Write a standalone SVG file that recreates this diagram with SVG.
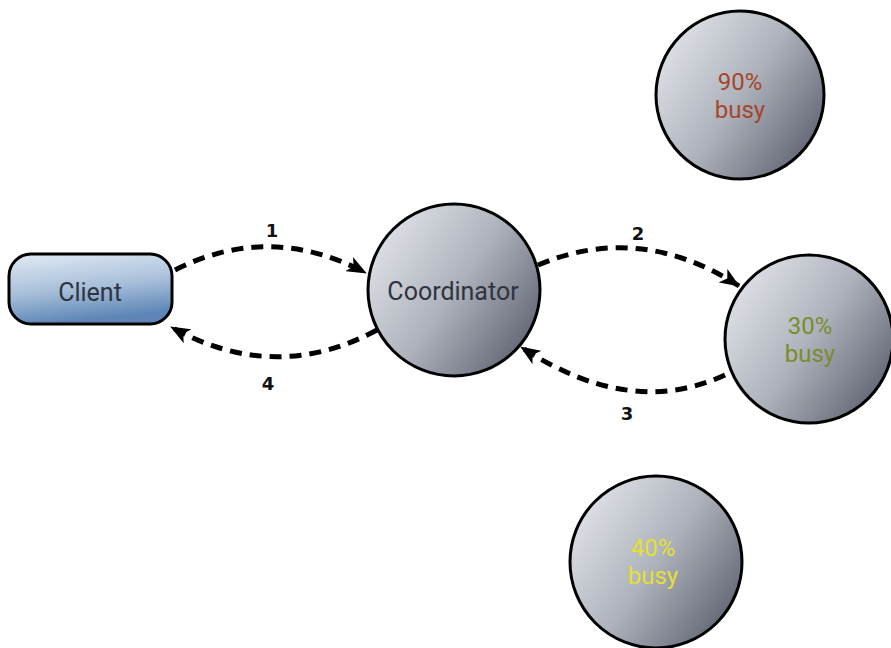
<svg xmlns="http://www.w3.org/2000/svg" width="891" height="648" viewBox="0 0 891 648">
  <defs>
    <linearGradient id="ballFill" x1="0" y1="0.15" x2="1" y2="0.85">
      <stop offset="0" stop-color="#e4e7ec"/>
      <stop offset="0.5" stop-color="#aeb2bb"/>
      <stop offset="1" stop-color="#595d6c"/>
    </linearGradient>
    <linearGradient id="pillFill" x1="0" y1="0" x2="0.25" y2="1">
      <stop offset="0" stop-color="#e2ebf5"/>
      <stop offset="0.55" stop-color="#a9c0da"/>
      <stop offset="1" stop-color="#5d86b6"/>
    </linearGradient>
    <marker id="head" viewBox="0 0 20 16" refX="19" refY="8" markerWidth="20" markerHeight="16" markerUnits="userSpaceOnUse" orient="auto">
      <path d="M0,0 L20,8 L0,16 L5,8 Z" fill="#000"/>
    </marker>
    <style>
      .ball { fill: url(#ballFill); stroke: #000; stroke-width: 3; }
      .pill { fill: url(#pillFill); stroke: #000; stroke-width: 3; }
      .name { font-family: Roboto, "Liberation Sans", sans-serif; font-size: 25px; fill: #2f3440; text-anchor: middle; }
      .load { font-family: Roboto, "Liberation Sans", sans-serif; font-size: 24px; text-anchor: middle; }
      .edge { fill: none; stroke: #000; stroke-width: 5; stroke-dasharray: 12 8; marker-end: url(#head); }
      .step { font-family: "DejaVu Sans", Verdana, sans-serif; font-weight: bold; font-size: 18px; fill: #111; text-anchor: middle; }
    </style>
  </defs>

  <g id="connectors">
    <path class="edge" d="M175,270 Q270,222 366,273"/>
    <path class="edge" d="M377,330 Q275,385 171,327"/>
    <path class="edge" d="M538,265 Q640,222 739,286"/>
    <path class="edge" d="M725,375 Q630,419 521,347"/>
    <text class="step" x="272" y="237">1</text>
    <text class="step" x="638" y="240">2</text>
    <text class="step" x="627" y="420">3</text>
    <text class="step" x="268" y="390">4</text>
  </g>

  <g id="client">
    <rect class="pill" x="9" y="254" width="163" height="70" rx="22"/>
    <text class="name" x="90" y="301">Client</text>
  </g>

  <g id="coordinator">
    <circle class="ball" cx="454" cy="290" r="86"/>
    <text class="name" x="453" y="300">Coordinator</text>
  </g>

  <g id="worker90">
    <circle class="ball" cx="740" cy="95" r="84"/>
    <text class="load" x="740" y="90" fill="#a7442c">90%</text>
    <text class="load" x="740" y="118" fill="#a7442c">busy</text>
  </g>

  <g id="worker30">
    <circle class="ball" cx="809" cy="339" r="84"/>
    <text class="load" x="810" y="334" fill="#7b8c2c">30%</text>
    <text class="load" x="810" y="362" fill="#7b8c2c">busy</text>
  </g>

  <g id="worker40">
    <circle class="ball" cx="656" cy="562" r="86"/>
    <text class="load" x="653" y="556" fill="#e6e032">40%</text>
    <text class="load" x="653" y="584" fill="#e6e032">busy</text>
  </g>
</svg>
